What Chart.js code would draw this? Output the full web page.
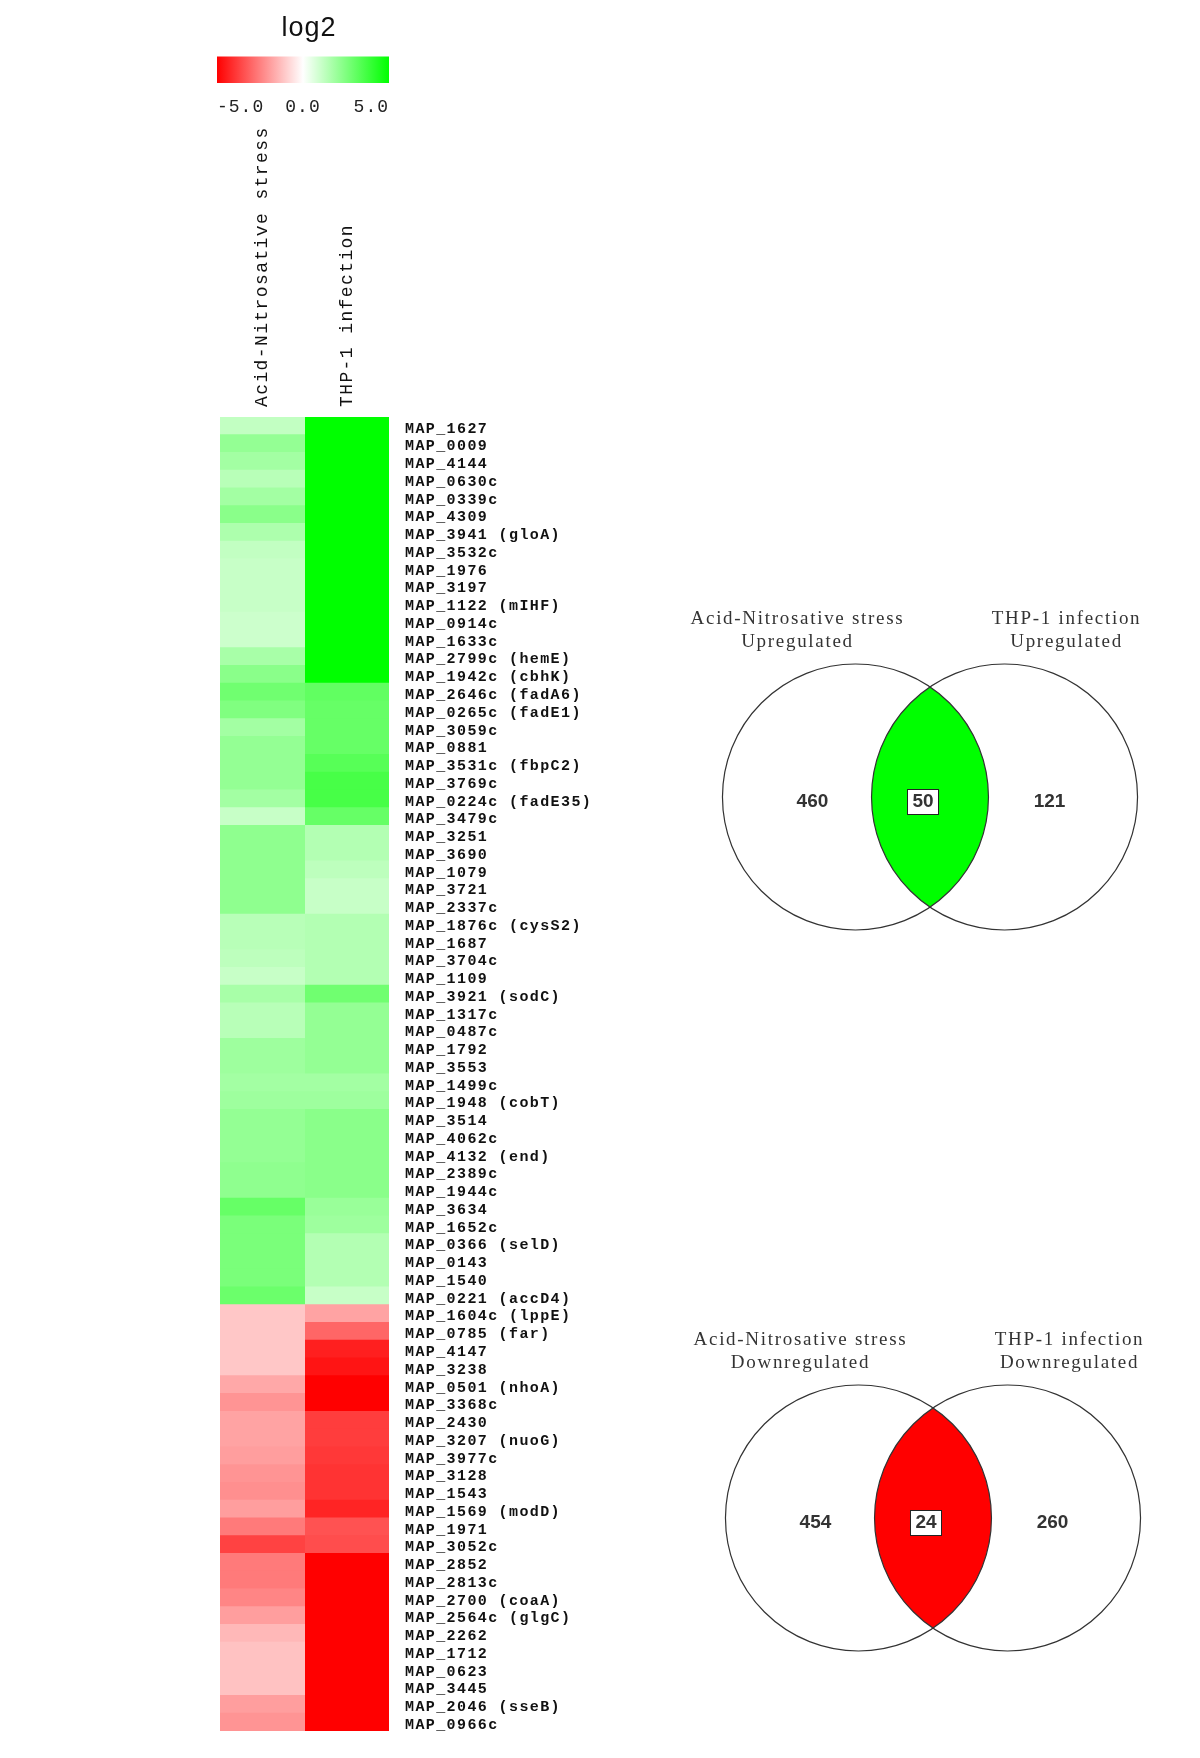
<!DOCTYPE html>
<html lang="en">
<head>
  <meta charset="UTF-8">
  <title>Heatmap and Venn</title>
  <script src="https://cdn.jsdelivr.net/npm/chart.js"></script>
  <style>
    body {
      margin: 0;
      background: #fff;
      width: 1200px;
      height: 1758px;
      position: relative;
      overflow: hidden;
    }
    canvas {
      position: absolute;
    }
    #legendChart { left: 200px; top: 0px; width: 218px; height: 125px; }
    #heatChart { left: 220px; top: 110px; width: 389px; height: 1621px; }
    #vennUp { left: 690px; top: 597px; width: 480px; height: 400px; }
    #vennDown { left: 693px; top: 1318px; width: 480px; height: 400px; }
  </style>
</head>
<body>

<canvas id="legendChart" width="218" height="125"></canvas>
<canvas id="heatChart" width="389" height="1621"></canvas>
<canvas id="vennUp" width="480" height="400"></canvas>
<canvas id="vennDown" width="480" height="400"></canvas>

<script>
const conditions = ['Acid-Nitrosative stress', 'THP-1 infection'];

const genes = [
  'MAP_1627', 'MAP_0009', 'MAP_4144', 'MAP_0630c', 'MAP_0339c', 'MAP_4309', 'MAP_3941 (gloA)', 'MAP_3532c', 'MAP_1976', 'MAP_3197',
  'MAP_1122 (mIHF)', 'MAP_0914c', 'MAP_1633c', 'MAP_2799c (hemE)', 'MAP_1942c (cbhK)', 'MAP_2646c (fadA6)', 'MAP_0265c (fadE1)', 'MAP_3059c', 'MAP_0881', 'MAP_3531c (fbpC2)',
  'MAP_3769c', 'MAP_0224c (fadE35)', 'MAP_3479c', 'MAP_3251', 'MAP_3690', 'MAP_1079', 'MAP_3721', 'MAP_2337c', 'MAP_1876c (cysS2)', 'MAP_1687',
  'MAP_3704c', 'MAP_1109', 'MAP_3921 (sodC)', 'MAP_1317c', 'MAP_0487c', 'MAP_1792', 'MAP_3553', 'MAP_1499c', 'MAP_1948 (cobT)', 'MAP_3514',
  'MAP_4062c', 'MAP_4132 (end)', 'MAP_2389c', 'MAP_1944c', 'MAP_3634', 'MAP_1652c', 'MAP_0366 (selD)', 'MAP_0143', 'MAP_1540', 'MAP_0221 (accD4)',
  'MAP_1604c (lppE)', 'MAP_0785 (far)', 'MAP_4147', 'MAP_3238', 'MAP_0501 (nhoA)', 'MAP_3368c', 'MAP_2430', 'MAP_3207 (nuoG)', 'MAP_3977c', 'MAP_3128',
  'MAP_1543', 'MAP_1569 (modD)', 'MAP_1971', 'MAP_3052c', 'MAP_2852', 'MAP_2813c', 'MAP_2700 (coaA)', 'MAP_2564c (glgC)', 'MAP_2262', 'MAP_1712',
  'MAP_0623', 'MAP_3445', 'MAP_2046 (sseB)', 'MAP_0966c'
];

// log2 fold change
const acidNitro = [
  1.2, 2.1, 1.8, 1.4, 1.8, 2.3, 1.6, 1.2, 1.1, 1.1,
  1.1, 1.0, 1.0, 1.7, 2.3, 2.8, 2.5, 1.8, 2.1, 2.1,
  2.1, 1.8, 1.1, 2.2, 2.2, 2.2, 2.2, 2.2, 1.4, 1.4,
  1.3, 1.1, 1.7, 1.4, 1.4, 1.9, 1.9, 1.8, 1.9, 2.1,
  2.1, 2.1, 2.2, 2.2, 3.0, 2.6, 2.6, 2.6, 2.6, 2.9,
  -1.1, -1.1, -1.1, -1.1, -1.7, -2.1, -1.8, -1.8, -1.9, -2.1,
  -2.2, -1.9, -2.6, -3.7, -2.6, -2.6, -2.4, -1.9, -1.4, -1.2,
  -1.2, -1.2, -1.9, -2.1
];
const thp1 = [
  5, 5, 5, 5, 5, 5, 5, 5, 5, 5,
  5, 5, 5, 5, 5, 3.1, 3.0, 3.0, 3.0, 3.3,
  3.6, 3.6, 3.0, 1.5, 1.5, 1.3, 1.1, 1.1, 1.5, 1.5,
  1.5, 1.5, 2.8, 2.1, 2.1, 2.1, 2.1, 1.8, 1.9, 2.3,
  2.3, 2.3, 2.3, 2.3, 2.0, 1.9, 1.5, 1.5, 1.5, 1.1,
  -1.8, -3.0, -4.4, -4.6, -5, -5, -3.8, -3.8, -3.9, -4.0,
  -4.0, -4.3, -3.4, -3.5, -5, -5, -5, -5, -5, -5,
  -5, -5, -5, -5
];

const legendTicks = [-5, 0, 5];

const upCounts = [460, 50, 121];
const downCounts = [454, 24, 260];

function heatColor(v) {
  const t = Math.min(Math.abs(v) / 5, 1);
  const c = Math.round(255 * (1 - t));
  return v >= 0 ? `rgb(${c},255,${c})` : `rgb(255,${c},${c})`;
}

// canvas letter spacing (the original uses a wide bitmap font)
const spacing = px => ({
  id: 'spacing',
  beforeUpdate(chart) { chart.ctx.letterSpacing = px; },
  beforeDraw(chart) { chart.ctx.letterSpacing = px; }
});

const noPad = s => { s.paddingLeft = 0; s.paddingRight = 0; s.paddingTop = 0; s.paddingBottom = 0; };

// empty side axis that only takes up room
const spacer = (position, width) => ({
  type: 'category',
  position,
  ticks: { display: false },
  grid: { display: false, drawTicks: false },
  border: { display: false },
  afterFit: s => { s.width = width; noPad(s); }
});

// colour key
new Chart(document.getElementById('legendChart'), {
  type: 'bar',
  data: {
    labels: ['log2'],
    datasets: [{
      data: [[legendTicks[0], legendTicks[legendTicks.length - 1]]],
      backgroundColor: ctx => {
        const area = ctx.chart.chartArea;
        if (!area) return '#fff';
        const g = ctx.chart.ctx.createLinearGradient(area.left, 0, area.right, 0);
        g.addColorStop(0, heatColor(-5));
        g.addColorStop(0.5, heatColor(0));
        g.addColorStop(1, heatColor(5));
        return g;
      },
      borderWidth: 0,
      barPercentage: 1,
      categoryPercentage: 1,
      yAxisID: 'y'
    }]
  },
  options: {
    indexAxis: 'y',
    responsive: false,
    animation: false,
    events: [],
    layout: { padding: 0 },
    scales: {
      y: spacer('left', 17),
      y2: spacer('right', 29),
      x: {
        min: legendTicks[0],
        max: legendTicks[legendTicks.length - 1],
        afterBuildTicks: s => { s.ticks = legendTicks.map(v => ({ value: v })); },
        afterFit: s => { s.height = 42; noPad(s); },
        grid: { display: false, drawTicks: false },
        border: { display: false },
        ticks: {
          align: 'inner',
          padding: 13,
          color: '#222',
          font: { family: '"Liberation Mono", monospace', size: 18 },
          callback: v => v.toFixed(1)
        }
      }
    },
    plugins: {
      legend: { display: false },
      tooltip: { enabled: false },
      title: {
        display: true,
        text: 'log2',
        color: '#111',
        font: { family: '"Liberation Sans", Arial, sans-serif', size: 27, weight: 'normal' },
        padding: { top: 12, bottom: 12 }
      }
    }
  },
  plugins: [spacing('1px')]
});

// heatmap
const columns = [acidNitro, thp1];

new Chart(document.getElementById('heatChart'), {
  type: 'bar',
  data: {
    labels: genes,
    datasets: conditions.map((name, col) => ({
      label: name,
      data: genes.map((g, i) => ({ y: g, x: [col, col + 1], v: columns[col][i] })),
      backgroundColor: ctx => heatColor(ctx.raw.v),
      borderWidth: 0,
      barPercentage: 1,
      categoryPercentage: 1,
      grouped: false,
      inflateAmount: 0.5
    }))
  },
  options: {
    indexAxis: 'y',
    responsive: false,
    animation: false,
    events: [],
    layout: { padding: 0 },
    scales: {
      x: {
        type: 'linear',
        position: 'top',
        min: 0,
        max: conditions.length,
        afterBuildTicks: s => { s.ticks = conditions.map((c, i) => ({ value: i + 0.5 })); },
        afterFit: s => { s.height = 307; noPad(s); },
        grid: { display: false, drawTicks: false },
        border: { display: false },
        ticks: {
          autoSkip: false,
          minRotation: 90,
          maxRotation: 90,
          padding: 10,
          labelOffset: 22,
          color: '#111',
          font: { family: '"Liberation Mono", monospace', size: 18 },
          callback: v => conditions[Math.floor(v)]
        }
      },
      y: {
        position: 'right',
        afterFit: s => { s.width = 220; noPad(s); },
        grid: { display: false, drawTicks: false },
        border: { display: false },
        ticks: {
          autoSkip: false,
          padding: 16,
          labelOffset: 3,
          color: '#111',
          font: { family: '"Liberation Mono", monospace', size: 15, weight: 'bold' }
        }
      }
    },
    plugins: {
      legend: { display: false },
      tooltip: { enabled: false }
    }
  },
  plugins: [spacing('1.4px')]
});

// Venn diagrams: two bubbles, lens filled, counts written in
function vennPlugin(direction, counts, fill) {
  return {
    id: 'venn',
    beforeDatasetsDraw(chart) {
      const [a, b] = chart.getDatasetMeta(0).data;
      const ctx = chart.ctx;
      ctx.save();
      ctx.beginPath();
      ctx.arc(a.x, a.y, a.options.radius, 0, Math.PI * 2);
      ctx.clip();
      ctx.beginPath();
      ctx.arc(b.x, b.y, b.options.radius, 0, Math.PI * 2);
      ctx.fillStyle = fill;
      ctx.fill();
      ctx.restore();
    },
    afterDatasetsDraw(chart) {
      const [a, b] = chart.getDatasetMeta(0).data;
      const ctx = chart.ctx;
      ctx.save();

      // set names
      ctx.font = '19px "Liberation Serif", "Times New Roman", serif';
      ctx.letterSpacing = '1.7px';
      ctx.fillStyle = '#333';
      ctx.textAlign = 'center';
      ctx.textBaseline = 'middle';
      ctx.fillText(conditions[0], a.x - 58, a.y - 178);
      ctx.fillText(direction, a.x - 58, a.y - 155);
      ctx.fillText(conditions[1], b.x + 62, b.y - 178);
      ctx.fillText(direction, b.x + 62, b.y - 155);

      // counts
      ctx.letterSpacing = '0px';
      ctx.font = 'bold 19px "Liberation Sans", Arial, sans-serif';
      const midX = (a.x + b.x) / 2 - 7;
      const w = ctx.measureText(String(counts[1])).width + 10;
      ctx.fillStyle = '#fff';
      ctx.fillRect(midX - w / 2, a.y - 8, w, 25);
      ctx.strokeStyle = '#222';
      ctx.lineWidth = 1;
      ctx.strokeRect(Math.round(midX - w / 2) + 0.5, Math.round(a.y - 8) + 0.5, Math.round(w), 25);
      ctx.fillStyle = '#333';
      ctx.fillText(String(counts[0]), a.x - 43, a.y + 5);
      ctx.fillText(String(counts[1]), midX, a.y + 5);
      ctx.fillText(String(counts[2]), b.x + 45, b.y + 5);
      ctx.restore();
    }
  };
}

function makeVenn(id, direction, counts, fill) {
  new Chart(document.getElementById(id), {
    type: 'bubble',
    data: {
      datasets: [{
        data: [{ x: -1, y: 0, r: 133 }, { x: 1, y: 0, r: 133 }],
        backgroundColor: 'rgba(0,0,0,0)',
        borderColor: '#333',
        borderWidth: 1.2,
        clip: false
      }]
    },
    options: {
      responsive: false,
      animation: false,
      events: [],
      layout: { padding: 0, autoPadding: false },
      scales: {
        x: { display: false, min: -3.22, max: 3.22 },
        y: { display: false, min: -1, max: 1 }
      },
      plugins: {
        legend: { display: false },
        tooltip: { enabled: false }
      }
    },
    plugins: [vennPlugin(direction, counts, fill)]
  });
}

makeVenn('vennUp', 'Upregulated', upCounts, heatColor(5));
makeVenn('vennDown', 'Downregulated', downCounts, heatColor(-5));
</script>

</body>
</html>
